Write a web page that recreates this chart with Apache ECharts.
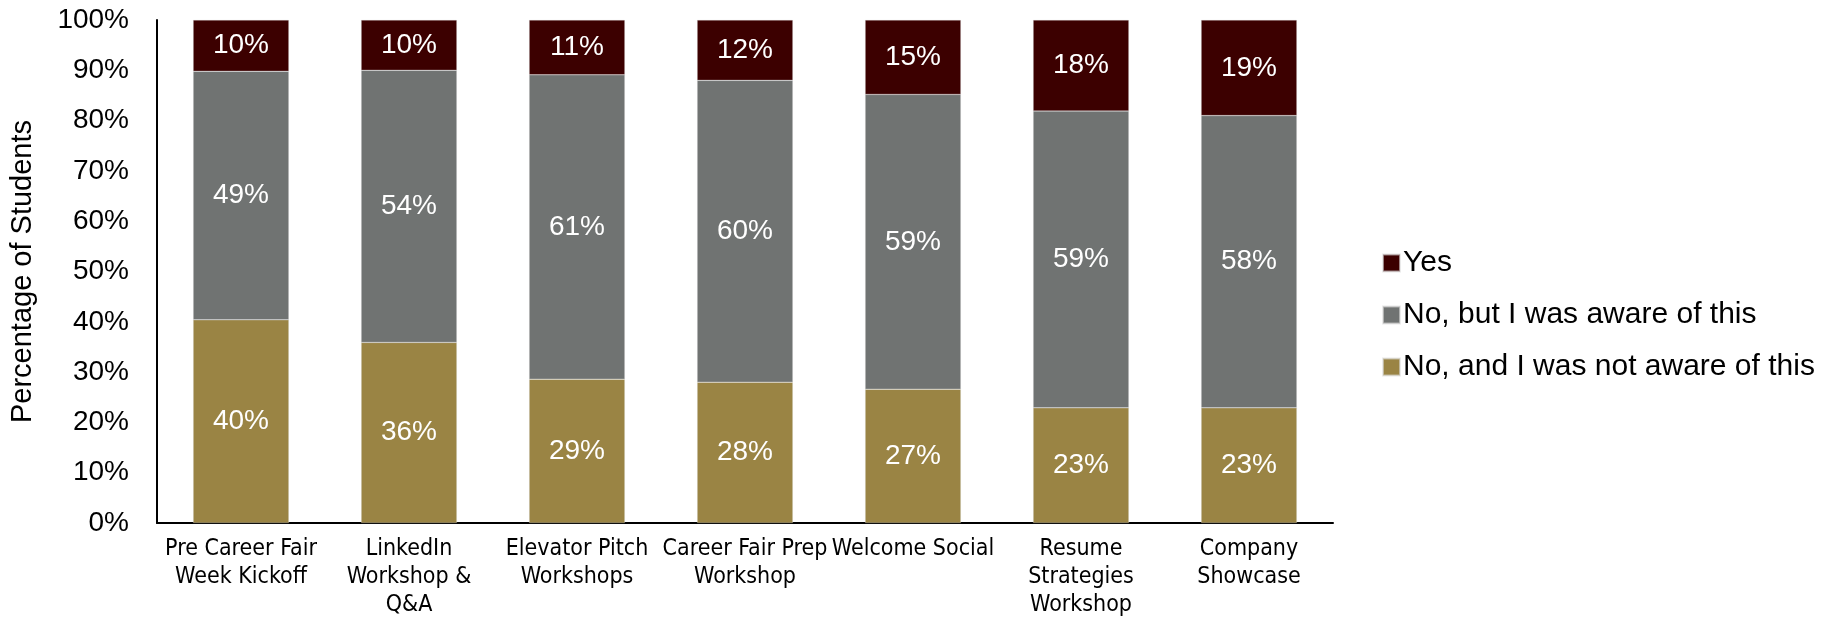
<!DOCTYPE html>
<html>
<head>
<meta charset="utf-8">
<script src="https://cdn.jsdelivr.net/npm/echarts@6/dist/echarts.min.js"></script>
<style>html,body{margin:0;padding:0;background:#fff;}#chart{width:1831px;height:620px;}</style>
</head>
<body>
<div id="chart"></div>
<script>
var categories = ["Pre Career Fair\nWeek Kickoff", "LinkedIn\nWorkshop &\nQ&A", "Elevator Pitch\nWorkshops", "Career Fair Prep\nWorkshop", "Welcome Social", "Resume\nStrategies\nWorkshop", "Company\nShowcase"];
var seriesNames = ["Yes", "No, but I was aware of this", "No, and I was not aware of this"];
var notAware = [40.4, 35.9, 28.6, 28.0, 26.6, 22.9, 22.9];
var aware = [49.4, 54.1, 60.5, 60.0, 58.6, 59.0, 58.1];
var yes = [10.2, 10.0, 10.9, 12.0, 14.8, 18.1, 19.0];

var chart = echarts.init(document.getElementById('chart'));
var labelCfg = {
  show: true, position: 'inside', color: '#ffffff', fontSize: 28,
  fontFamily: 'Liberation Sans',
  formatter: function (p) { return Math.round(p.value) + '%'; }
};
function mk(name, data, color) {
  return {
    name: name, type: 'bar', stack: 'total', data: data, barWidth: '57%',
    itemStyle: { color: color, borderColor: 'rgba(220,220,220,0.6)', borderWidth: 0.5 },
    label: labelCfg
  };
}
chart.setOption({
  animation: false,
  backgroundColor: '#ffffff',
  grid: { left: 156, right: 498, top: 20, bottom: 97 },
  legend: {
    data: seriesNames, orient: 'vertical', left: 1377, top: 243,
    itemWidth: 17, itemHeight: 17, itemGap: 22, icon: 'rect',
    textStyle: { fontSize: 30, lineHeight: 30, color: '#000', fontFamily: 'Liberation Sans', padding: [0, 0, 0, -2] }
  },
  xAxis: {
    type: 'category', data: categories,
    axisLine: { lineStyle: { color: '#000', width: 2 } },
    axisTick: { show: false },
    axisLabel: { color: '#000', fontSize: 23, lineHeight: 28, fontFamily: '"DejaVu Sans Condensed", "Liberation Sans", sans-serif', margin: 12, interval: 0 }
  },
  yAxis: {
    type: 'value', min: 0, max: 100, interval: 10,
    name: 'Percentage of Students', nameLocation: 'middle', nameGap: 120,
    nameTextStyle: { fontSize: 29, color: '#000', fontFamily: 'Liberation Sans' },
    axisLine: { show: true, lineStyle: { color: '#000', width: 2 } },
    axisTick: { show: false },
    splitLine: { show: false },
    axisLabel: { formatter: '{value}%', color: '#000', fontSize: 28, fontFamily: 'Liberation Sans', margin: 28 }
  },
  series: [
    mk(seriesNames[2], notAware, '#9a8444'),
    mk(seriesNames[1], aware, '#707372'),
    mk(seriesNames[0], yes, '#3c0000')
  ]
});
</script>
</body>
</html>
